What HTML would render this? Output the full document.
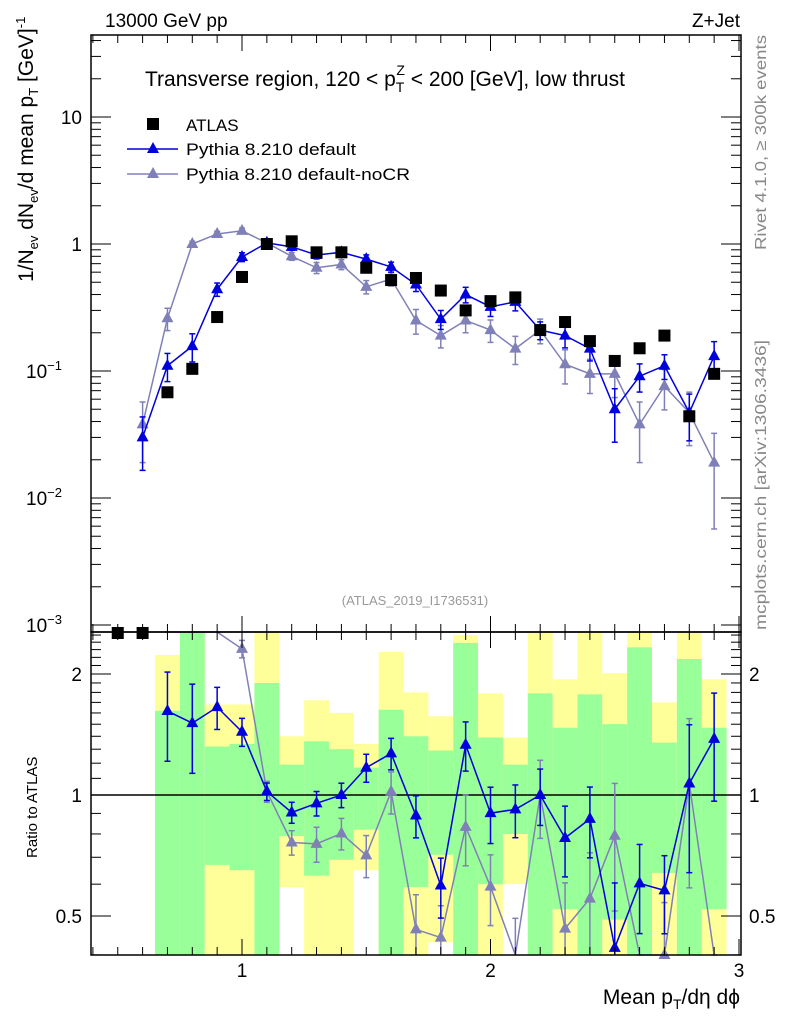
<!DOCTYPE html>
<html><head><meta charset="utf-8"><style>
body{margin:0;background:#fff;}
svg{font-family:"Liberation Sans",sans-serif;}
</style></head><body>
<svg id="c" width="786" height="1024" viewBox="0 0 786 1024" xmlns="http://www.w3.org/2000/svg">
<text x="105" y="27" font-size="19">13000 GeV pp</text>
<text x="740" y="27" font-size="19" text-anchor="end">Z+Jet</text>
<text x="145" y="86" font-size="21">Transverse region, 120 &lt; p<tspan font-size="14" dy="6">T</tspan><tspan font-size="14" dx="-8" dy="-17">Z</tspan><tspan dy="11"> &lt; 200 [GeV], low thrust</tspan></text>
<text x="415" y="605" font-size="13" fill="#999" text-anchor="middle">(ATLAS_2019_I1736531)</text>
<text transform="translate(766,250) rotate(-90)" font-size="16" fill="#888" textLength="215" lengthAdjust="spacingAndGlyphs">Rivet 4.1.0, ≥ 300k events</text>
<text transform="translate(766,630) rotate(-90)" font-size="16" fill="#888" textLength="290" lengthAdjust="spacingAndGlyphs">mcplots.cern.ch [arXiv:1306.3436]</text>
<text transform="translate(33,282) rotate(-90)" font-size="21">1/N<tspan font-size="13" dy="5">ev</tspan><tspan dy="-5"> dN</tspan><tspan font-size="13" dy="5">ev</tspan><tspan dy="-5">/d mean p</tspan><tspan font-size="13" dy="5">T</tspan><tspan dy="-5"> [GeV]</tspan><tspan font-size="13" dy="-8">-1</tspan></text>
<text transform="translate(37,858) rotate(-90)" font-size="15">Ratio to ATLAS</text>
<text x="740" y="1004" font-size="21" text-anchor="end">Mean p<tspan font-size="14" dy="5">T</tspan><tspan dy="-5">/dη dϕ</tspan></text>
<g id="bands"></g><g id="marks"></g><g id="axes"></g>
<g>
<rect x="147" y="118" width="12" height="12" fill="#000"/>
<text x="186" y="131" font-size="17">ATLAS</text>
<line x1="127" y1="149" x2="178" y2="149" stroke="#0000dd" stroke-width="1.5"/>
<polygon points="153,142 147,153 159,153" fill="#0000dd"/>
<text x="186" y="155" font-size="17" textLength="170" lengthAdjust="spacingAndGlyphs">Pythia 8.210 default</text>
<line x1="127" y1="174" x2="178" y2="174" stroke="#8080b8" stroke-width="1.5"/>
<polygon points="153,167 147,178 159,178" fill="#8080b8"/>
<text x="186" y="180" font-size="17" textLength="224" lengthAdjust="spacingAndGlyphs">Pythia 8.210 default-noCR</text>
</g>
</svg>
<script>
const atlasX=[0.5,0.6,0.7,0.8,0.9,1.0,1.1,1.2,1.3,1.4,1.5,1.6,1.7,1.8,1.9,2.0,2.1,2.2,2.3,2.4,2.5,2.6,2.7,2.8,2.9];
const atlasY=[0.0008,0.0008,0.068,0.104,0.266,0.55,1.0,1.05,0.86,0.86,0.65,0.52,0.54,0.43,0.30,0.355,0.38,0.21,0.243,0.172,0.12,0.151,0.19,0.044,0.095];
const mcX=[0.6,0.7,0.8,0.9,1.0,1.1,1.2,1.3,1.4,1.5,1.6,1.7,1.8,1.9,2.0,2.1,2.2,2.3,2.4,2.5,2.6,2.7,2.8,2.9];
const defY=[0.03,0.11,0.157,0.44,0.79,1.02,0.95,0.82,0.86,0.76,0.66,0.48,0.256,0.40,0.32,0.35,0.21,0.19,0.15,0.05,0.091,0.11,0.047,0.131];
const defErr=[0.45,0.25,0.25,0.12,0.08,0.05,0.06,0.07,0.07,0.08,0.09,0.12,0.17,0.14,0.16,0.15,0.16,0.2,0.2,0.45,0.25,0.22,0.4,0.3];
const nocrY=[0.038,0.26,1.0,1.2,1.27,1.02,0.80,0.65,0.69,0.46,0.53,0.25,0.19,0.25,0.21,0.15,0.21,0.113,0.095,0.095,0.038,0.076,0.047,0.019];
const nocrErr=[0.5,0.2,0.05,0.05,0.05,0.06,0.07,0.1,0.09,0.12,0.12,0.22,0.2,0.2,0.2,0.25,0.22,0.3,0.3,0.35,0.5,0.35,0.45,0.7];
const bandX=[0.7,0.8,0.9,1.0,1.1,1.2,1.3,1.4,1.5,1.6,1.7,1.8,1.9,2.0,2.1,2.2,2.3,2.4,2.5,2.6,2.7,2.8,2.9];
const greenHi=[1.62,9,1.32,1.34,1.9,1.19,1.36,1.30,1.17,1.63,1.40,1.29,2.39,1.39,1.19,1.79,1.47,1.78,1.50,2.33,1.35,2.18,1.47];
const greenLo=[0.1,0.1,0.67,0.65,0.1,0.79,0.63,0.69,0.82,0.1,0.59,0.71,0.1,0.60,0.80,0.1,0.52,0.1,0.49,0.1,0.64,0.1,0.52];
const yellowHi=[2.23,9,1.68,1.68,9,1.40,1.72,1.60,1.34,2.27,1.80,1.57,2.5,1.79,1.39,9,1.94,9,2.01,9,1.70,9,1.94];
const yellowLo=[0.1,0.1,0.1,0.1,0.1,0.59,0.1,0.1,0.65,0.1,0.1,0.43,0.1,0.1,0.60,0.1,0.1,0.1,0.1,0.1,0.1,0.1,0.1];
const mainTicks=[{v:10,l:"10"},{v:1,l:"1"},{v:0.1,l:"10",e:"−1"},{v:0.01,l:"10",e:"−2"},{v:0.001,l:"10",e:"−3"}];
const ratioTicks=[{v:2,l:"2"},{v:1,l:"1"},{v:0.5,l:"0.5"}];
const xTicks=[1,2,3];

const NS="http://www.w3.org/2000/svg";
const L=91,R=741,T=35,MB=632,RB=955;
const X=v=>242+(v-1)*248.5;
const Y=v=>244-Math.log10(v)*127;
const YR=v=>795-Math.log2(v)*121;
const clampM=y=>Math.max(T,Math.min(MB,y));
const clampR=y=>Math.max(MB,Math.min(RB,y));
function mk(tag,attrs,parent){const e=document.createElementNS(NS,tag);for(const k in attrs)e.setAttribute(k,attrs[k]);parent.appendChild(e);return e;}
const bands=document.getElementById('bands'),marks=document.getElementById('marks'),axes=document.getElementById('axes');

bandX.forEach((x,i)=>{
  const x0=X(x-0.05),w=X(x+0.05)-x0;
  const y1=clampR(YR(yellowHi[i])),y2=clampR(YR(yellowLo[i]));
  const r1=mk('rect',{x:x0,y:y1,width:w,height:y2-y1,fill:'#ffff99'},bands);
  
  
  const g1=clampR(YR(greenHi[i])),g2=clampR(YR(greenLo[i]));
  const r2=mk('rect',{x:x0,y:g1,width:w,height:g2-g1,fill:'#99ff99'},bands);
  
  
});
mk('line',{x1:L,y1:YR(1),x2:R,y2:YR(1),stroke:'#000','stroke-width':1.5},bands);

function tri(x,y,c,name){
  const p=mk('polygon',{points:`${x},${y-7} ${x-6},${y+4} ${x+6},${y+4}`,fill:c},marks);
  
  
}
function series(ys,errs,c,name,ratio){
  const cl=ratio?clampR:clampM;
  const pts=[];
  mcX.forEach((x,i)=>{
    let v=ys[i];
    if(ratio){const a=atlasY[atlasX.indexOf(x)];v=v/a;}
    if(ratio&&atlasY[atlasX.indexOf(x)]<0.001)return;
    const f=ratio?YR:Y;
    const y=f(v),hi=cl(f(v*(1+errs[i]))),lo=cl(f(Math.max(v*(1-errs[i]),1e-6)));
    const px=X(x);
    pts.push([px,cl(y)]);
    mk('line',{x1:px,y1:hi,x2:px,y2:lo,stroke:c,'stroke-width':1.5},marks);
    if(hi>(ratio?MB:T))mk('line',{x1:px-3,y1:hi,x2:px+3,y2:hi,stroke:c,'stroke-width':1.5},marks);
    if(lo<(ratio?RB:MB))mk('line',{x1:px-3,y1:lo,x2:px+3,y2:lo,stroke:c,'stroke-width':1.5},marks);
  });
  const pl=mk('polyline',{points:pts.map(p=>p.join(',')).join(' '),fill:'none',stroke:c,'stroke-width':1.5},marks);
  
  
  pts.forEach(p=>{if(p[1]>(ratio?MB:T)&&p[1]<(ratio?RB:MB))tri(p[0],p[1],c,name+'-point');});
}
series(nocrY,nocrErr,'#8080b8','nocr',false);
series(defY,defErr,'#0000dd','default',false);
atlasX.forEach((x,i)=>{
  const y=Math.max(Y(atlasY[i]),0);
  const yy=Math.min(y,MB+1);
  const r=mk('rect',{x:X(x)-6,y:yy-6,width:12,height:12,fill:'#000'},marks);
  
  
});
series(nocrY,nocrErr,'#8080b8','nocr-ratio',true);
series(defY,defErr,'#0000dd','default-ratio',true);

mk('rect',{x:L,y:T,width:R-L,height:MB-T,fill:'none',stroke:'#000','stroke-width':1.5},axes);
mk('rect',{x:L,y:MB,width:R-L,height:RB-MB,fill:'none',stroke:'#000','stroke-width':1.5},axes);
for(let k=4;k<=30;k++){
  const v=k/10,px=X(v);if(px<L||px>R)continue;
  const major=k%10===0,len=major?16:8;
  [[MB,-1],[T,1],[RB,-1]].forEach(([y0,d])=>mk('line',{x1:px,y1:y0,x2:px,y2:y0+d*len,stroke:'#000','stroke-width':1},axes));
  mk('line',{x1:px,y1:MB,x2:px,y2:MB+len,stroke:'#000','stroke-width':1},axes);
}
xTicks.forEach(v=>{const t=mk('text',{x:X(v),y:977,'font-size':19,'text-anchor':'middle'},axes);t.textContent=v;
  
  });
for(let d=-3;d<=1;d++)for(let m=1;m<=9;m++){
  const v=m*Math.pow(10,d),y=Y(v);if(y<T||y>MB)continue;
  const len=m===1?20:10;
  mk('line',{x1:L,y1:y,x2:L+len,y2:y,stroke:'#000'},axes);
  mk('line',{x1:R,y1:y,x2:R-len,y2:y,stroke:'#000'},axes);
}
mainTicks.forEach(t=>{
  const y=Math.min(Y(t.v)+7,MB);
  const el=mk('text',{x:t.e?62:82,y:y,'font-size':19,'text-anchor':'end'},axes);
  el.textContent=t.l;
  
  
  if(t.e){const s=mk('tspan',{'font-size':13,dy:-8},el);s.textContent=t.e;}
});
const rt=[0.4,0.5,0.6,0.7,0.8,0.9,1,1.1,1.2,1.3,1.4,1.5,1.6,1.7,1.8,1.9,2,2.1,2.2,2.3,2.4,2.5];
rt.forEach(v=>{const y=YR(v);if(y<MB||y>RB)return;const len=[0.5,1,2].includes(v)?20:10;
  mk('line',{x1:L,y1:y,x2:L+len,y2:y,stroke:'#000'},axes);
  mk('line',{x1:R,y1:y,x2:R-len,y2:y,stroke:'#000'},axes);});
ratioTicks.forEach(t=>{
  const a=mk('text',{x:82,y:YR(t.v)+7,'font-size':19,'text-anchor':'end'},axes);a.textContent=t.l;
  
  
  const b=mk('text',{x:749,y:YR(t.v)+7,'font-size':19},axes);b.textContent=t.l;
  
  
});
</script>
</body></html>
